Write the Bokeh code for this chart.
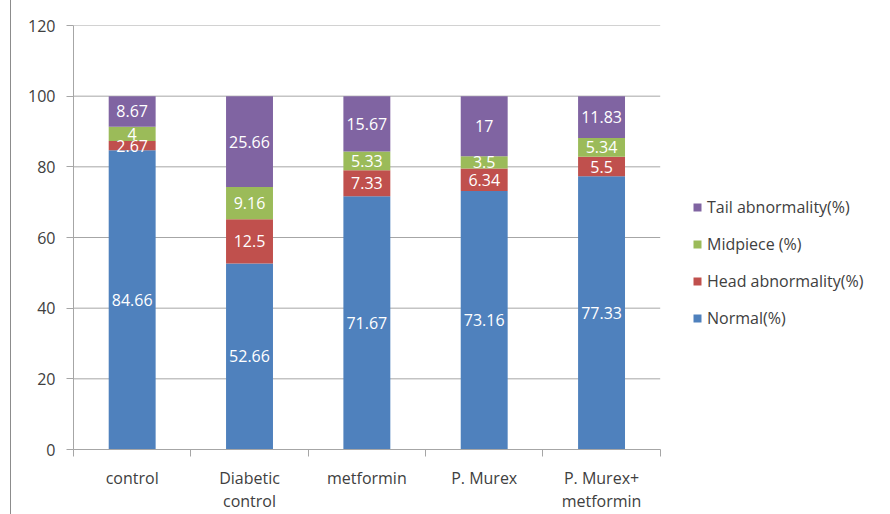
from bokeh.plotting import figure
from bokeh.models import FixedTicker, Range1d, Legend, LegendItem, ColumnDataSource, LabelSet
from bokeh.core.properties import value
from bokeh.embed import file_html
from bokeh.resources import INLINE

categories = ["control", "Diabetic\ncontrol", "metformin", "P. Murex", "P. Murex+\nmetformin"]
series = ["Normal(%)", "Head abnormality(%)", "Midpiece (%)", "Tail abnormality(%)"]
normal = [84.66, 52.66, 71.67, 73.16, 77.33]
head = [2.67, 12.5, 7.33, 6.34, 5.5]
midpiece = [4, 9.16, 5.33, 3.5, 5.34]
tail = [8.67, 25.66, 15.67, 17, 11.83]
y_ticks = [0, 20, 40, 60, 80, 100, 120]
colors = ["#4F81BD", "#C0504D", "#9BBB59", "#8064A2"]

FONT = "Open Sans"
TXT = "#404040"
GRID = "#A6A6A6"

n = len(categories)
values = [normal, head, midpiece, tail]
xs = [i + 0.5 for i in range(n)]
data = {"x": xs}
for name, vals in zip(series, values):
    data[name] = vals
source = ColumnDataSource(data)

# frame spans to the right edge so that the legend (drawn inside it) is not clipped;
# the category area itself covers 586 px of the 816 px frame
x_end = n * 816 / 586

p = figure(width=879, height=514, x_range=Range1d(0, x_end), y_range=Range1d(0, 120),
           output_backend="svg", toolbar_location=None,
           min_border_left=62, min_border_right=0, min_border_top=25, min_border_bottom=65)
p.styles = {"border-left": "1px solid #8c8c8c", "margin-left": "10px"}
p.outline_line_color = None

# horizontal gridlines over the category area only
p.segment(x0=[0] * len(y_ticks), x1=[n] * len(y_ticks), y0=y_ticks, y1=y_ticks,
          line_color=GRID, line_width=1)

renderers = p.vbar_stack(series, x="x", width=0.4, source=source, color=colors, line_color=None)

# segment labels
lx, ly, lt = [], [], []
for i, x in enumerate(xs):
    base = 0.0
    for vals in values:
        v = vals[i]
        lx.append(x)
        ly.append(base + v / 2.0)
        lt.append(f"{v:g}")
        base += v
labels = LabelSet(x="x", y="y", text="t", source=ColumnDataSource(dict(x=lx, y=ly, t=lt)),
                  text_align="center", text_baseline="middle", text_color="white",
                  text_font=value(FONT), text_font_size=value("16px"))
p.add_layout(labels)

# axes
p.xaxis.bounds = (0, n)
p.xaxis.ticker = FixedTicker(ticks=xs, minor_ticks=list(range(n + 1)))
p.xaxis.major_label_overrides = {x: c for x, c in zip(xs, categories)}
p.xaxis.major_tick_out = 0
p.xaxis.major_tick_in = 0
p.xaxis.minor_tick_out = 7
p.xaxis.minor_tick_in = 0
p.xaxis.minor_tick_line_color = GRID
p.xaxis.axis_line_color = GRID
p.xaxis.major_label_standoff = 10
p.xaxis.major_label_text_font = FONT
p.xaxis.major_label_text_font_size = "16px"
p.xaxis.major_label_text_line_height = 1.05
p.xaxis.major_label_text_color = TXT

p.yaxis.ticker = FixedTicker(ticks=y_ticks, minor_ticks=[])
p.yaxis.major_tick_out = 7
p.yaxis.major_tick_in = 0
p.yaxis.major_tick_line_color = GRID
p.yaxis.axis_line_color = GRID
p.yaxis.major_label_standoff = 11
p.yaxis.major_label_text_font = FONT
p.yaxis.major_label_text_font_size = "16px"
p.yaxis.major_label_text_color = TXT

p.xgrid.grid_line_color = None
p.ygrid.grid_line_color = None

items = [LegendItem(label=series[k], renderers=[renderers[k]]) for k in (3, 2, 1, 0)]
legend = Legend(items=items, location=(619, 120), orientation="vertical",
                glyph_width=10, glyph_height=10, label_height=20, spacing=15,
                label_standoff=5, padding=0, margin=0,
                border_line_color=None, background_fill_alpha=0,
                label_text_font=FONT, label_text_font_size="16px", label_text_color=TXT)
p.add_layout(legend, "center")

open("out.html", "w").write(file_html(p, INLINE))
